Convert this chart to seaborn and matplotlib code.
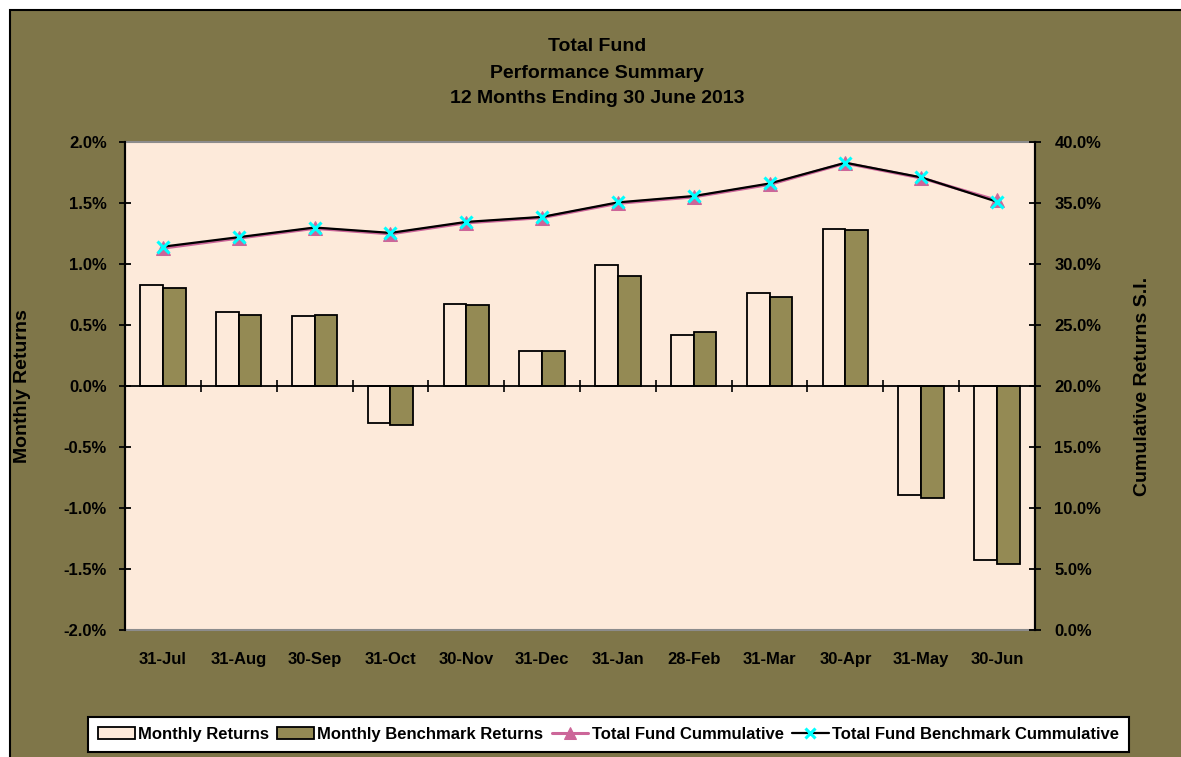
import numpy as np
import pandas as pd
import matplotlib
matplotlib.use("Agg")
import matplotlib.pyplot as plt
import seaborn as sns
from matplotlib.patches import Rectangle
from matplotlib.ticker import PercentFormatter, FixedLocator, MultipleLocator, NullFormatter

# ---------------- data ----------------
months = ["31-Jul", "31-Aug", "30-Sep", "31-Oct", "30-Nov", "31-Dec",
          "31-Jan", "28-Feb", "31-Mar", "30-Apr", "31-May", "30-Jun"]
monthly_returns = [0.83, 0.61, 0.57, -0.30, 0.67, 0.29, 0.99, 0.42, 0.76, 1.29, -0.89, -1.43]
benchmark_returns = [0.80, 0.58, 0.58, -0.32, 0.66, 0.29, 0.90, 0.44, 0.73, 1.28, -0.92, -1.46]
fund_cumulative = [31.30, 32.12, 32.92, 32.47, 33.37, 33.80, 34.97, 35.50, 36.52, 38.26, 37.05, 35.22]
bench_cumulative = [31.42, 32.20, 32.99, 32.55, 33.45, 33.86, 35.05, 35.57, 36.60, 38.30, 37.10, 35.10]

bar_labels = ["Monthly Returns", "Monthly Benchmark Returns"]
line_labels = ["Total Fund Cummulative", "Total Fund Benchmark Cummulative"]
title_lines = ["Total Fund", "Performance Summary", "12 Months Ending 30 June 2013"]

# ---------------- style ----------------
sns.set_style("ticks")
plt.rcParams["font.family"] = ["Liberation Sans", "DejaVu Sans"]
plt.rcParams["font.weight"] = "bold"
plt.rcParams["axes.unicode_minus"] = False
plt.rcParams["text.color"] = "black"
plt.rcParams["axes.labelcolor"] = "black"
plt.rcParams["xtick.color"] = "black"
plt.rcParams["ytick.color"] = "black"

OLIVE = "#7F7649"
PEACH = "#FDEADA"
BENCH = "#948A54"
PINK = "#CC6699"

W, H = 1181, 757
fig = plt.figure(figsize=(W / 100, H / 100), dpi=100, facecolor="white")

# olive frame
frame = Rectangle((10 / W, -0.01), 1.0, 1 - 10 / H + 0.01, transform=fig.transFigure,
                  facecolor=OLIVE, edgecolor="black", linewidth=1.5, zorder=-10)
fig.patches.append(frame)

ax = fig.add_axes([125 / W, 127 / H, 910 / W, 488 / H])
ax.set_facecolor(PEACH)

df = pd.DataFrame({
    "Month": months * 2,
    "Return": monthly_returns + benchmark_returns,
    "Series": [bar_labels[0]] * len(months) + [bar_labels[1]] * len(months),
})
sns.barplot(data=df, x="Month", y="Return", hue="Series", order=months, hue_order=bar_labels,
            palette=[PEACH, BENCH], width=0.6, edgecolor="black", linewidth=1.3,
            saturation=1, ax=ax, zorder=3)

ax.set_xlim(-0.5, len(months) - 0.5)
ax.set_ylim(-2.0, 2.0)
ax.yaxis.set_major_locator(MultipleLocator(0.5))
ax.yaxis.set_major_formatter(PercentFormatter(xmax=100, decimals=1))
ax.set_xlabel("")
ax.set_ylabel("Monthly Returns", fontsize=14, fontweight="bold")
ax.tick_params(axis="y", direction="inout", length=8, width=1.3, color="black",
               labelcolor="black", labelsize=12, pad=9)
ax.tick_params(axis="x", length=0, labelsize=12, labelcolor="black", pad=16)
for lab in ax.get_xticklabels() + ax.get_yticklabels():
    lab.set_fontweight("bold")
for s in ["left", "right"]:
    ax.spines[s].set_color("black")
    ax.spines[s].set_linewidth(1.5)
for s in ["top", "bottom"]:
    ax.spines[s].set_color("#8C8C8C")
    ax.spines[s].set_linewidth(1.5)

# zero axis line with category-boundary ticks
sec = ax.secondary_xaxis(0.5)
sec.xaxis.set_major_locator(FixedLocator(np.arange(-0.5, len(months), 1.0)))
sec.xaxis.set_major_formatter(NullFormatter())
sec.tick_params(axis="x", direction="inout", length=9, width=1.2, color="black",
                labelbottom=False, labeltop=False)
for s in sec.spines.values():
    s.set_color("black")
    s.set_linewidth(1.3)
sec.set_zorder(4)

# secondary axis: cumulative
ax2 = ax.twinx()
ax2.set_ylim(0, 40)
ax2.yaxis.set_major_locator(MultipleLocator(5))
ax2.yaxis.set_major_formatter(PercentFormatter(xmax=100, decimals=1))
xpos = np.arange(len(months))
sns.lineplot(x=xpos, y=fund_cumulative, ax=ax2, color=PINK, linewidth=2.2, marker="^",
             markersize=10, markeredgecolor=PINK, label=line_labels[0], zorder=5)
sns.lineplot(x=xpos, y=bench_cumulative, ax=ax2, color="black", linewidth=1.6, marker="x",
             markersize=9, markeredgecolor="#00FFFF", markeredgewidth=2.2,
             label=line_labels[1], zorder=6)
ax2.set_ylabel("Cumulative Returns S.I.", fontsize=14, fontweight="bold")
ax2.tick_params(axis="y", direction="inout", length=8, width=1.3, color="black",
                labelcolor="black", labelsize=12, pad=10)
for lab in ax2.get_yticklabels():
    lab.set_fontweight("bold")
for s in ["left", "right"]:
    ax2.spines[s].set_color("black")
    ax2.spines[s].set_linewidth(1.5)
for s in ["top", "bottom"]:
    ax2.spines[s].set_visible(False)
ax2.set_xlim(-0.5, len(months) - 0.5)

# axis label positions
ax.yaxis.set_label_coords(31 / W, 0.5 * (127 + 615) / H, transform=fig.transFigure)
ax2.yaxis.set_label_coords(1134 / W, 0.5 * (127 + 615) / H, transform=fig.transFigure)

# title
for line, yb in zip(title_lines, [51, 78, 103]):
    fig.text(597 / W, 1 - yb / H, line, ha="center", va="baseline", fontsize=14,
             fontweight="bold", color="black")

# legend
h1, l1 = ax.get_legend_handles_labels()
h2, l2 = ax2.get_legend_handles_labels()
if ax.get_legend() is not None:
    ax.get_legend().remove()
if ax2.get_legend() is not None:
    ax2.get_legend().remove()
leg = fig.legend(h1 + h2, l1 + l2, loc="lower left", bbox_to_anchor=(88 / W, 5 / H),
                 ncol=4, frameon=True, fancybox=False, framealpha=1, edgecolor="black",
                 facecolor="white", prop={"size": 12, "weight": "bold"},
                 handlelength=2.2, handletextpad=0.2, columnspacing=0.5,
                 borderpad=0.6, borderaxespad=0, labelcolor="black", markerscale=0.8)
leg.get_frame().set_linewidth(1.5)

fig.savefig("out.png", dpi=100, facecolor="white")
